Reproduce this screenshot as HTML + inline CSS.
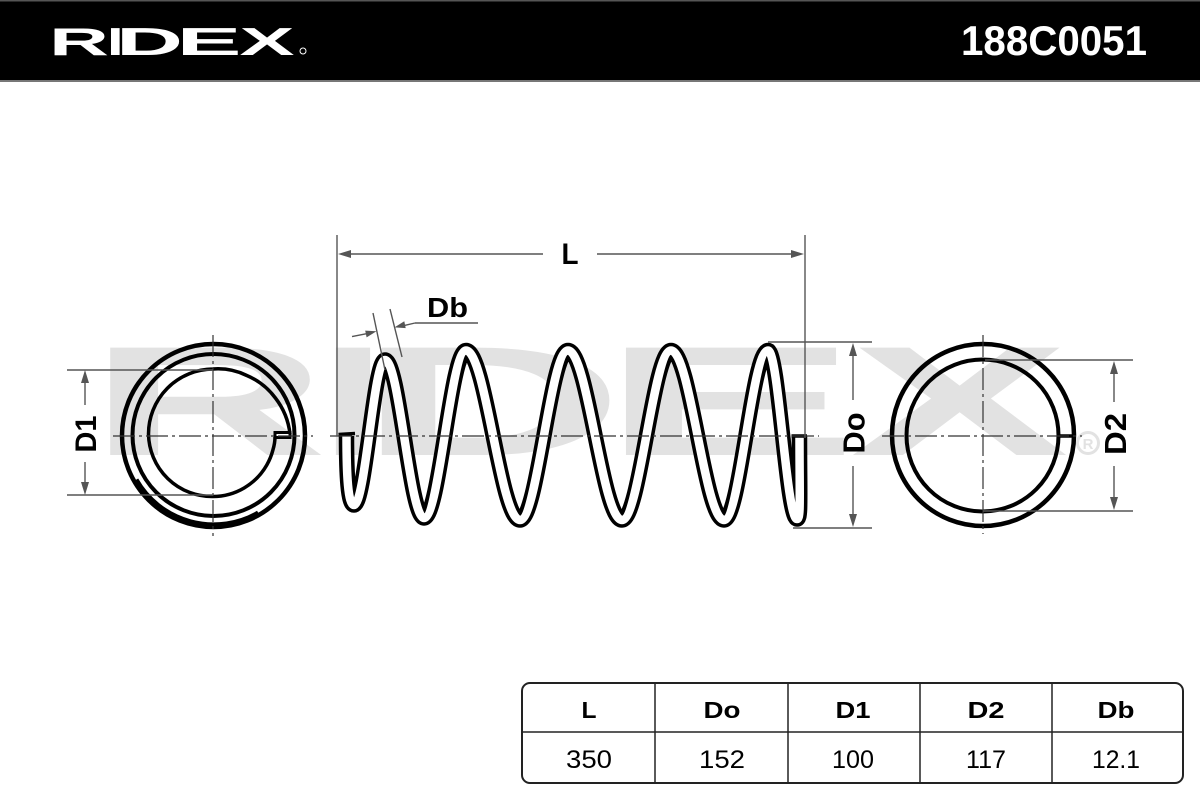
<!DOCTYPE html>
<html>
<head>
<meta charset="utf-8">
<style>
html,body{margin:0;padding:0;background:#fff;}
body{width:1200px;height:800px;overflow:hidden;}
svg{display:block;}
text{font-family:"Liberation Sans",Arial,sans-serif;}
</style>
</head>
<body>
<svg width="1200" height="800" viewBox="0 0 1200 800" xmlns="http://www.w3.org/2000/svg">
  <rect x="0" y="0" width="1200" height="800" fill="#fff"/>

  <!-- Header bar -->
  <rect x="0" y="0" width="1200" height="80" fill="#000"/>
  <rect x="0" y="0" width="1200" height="1.5" fill="#555"/>
  <rect x="0" y="80" width="1200" height="2" fill="#777"/>
  <g fill="#fff" font-weight="bold" font-size="39">
    <text x="49" y="55" textLength="60" lengthAdjust="spacingAndGlyphs">R</text>
    <text x="107" y="55" textLength="16.6" lengthAdjust="spacingAndGlyphs">I</text>
    <text x="116" y="55" textLength="67" lengthAdjust="spacingAndGlyphs">D</text>
    <text x="176.5" y="55" textLength="65" lengthAdjust="spacingAndGlyphs">E</text>
    <text x="239.5" y="55" textLength="55" lengthAdjust="spacingAndGlyphs">X</text>
  </g>
  <circle cx="303" cy="51" r="3" fill="none" stroke="#fff" stroke-width="1"/>
  <text x="961" y="55" fill="#fff" font-weight="bold" font-size="42" textLength="186" lengthAdjust="spacingAndGlyphs">188C0051</text>

  <!-- Watermark -->
  <g fill="#e2e2e2" font-weight="bold" font-size="156">
    <text x="88" y="455" textLength="240" lengthAdjust="spacingAndGlyphs">R</text>
    <text x="320" y="455" textLength="66" lengthAdjust="spacingAndGlyphs">I</text>
    <text x="357" y="455" textLength="268" lengthAdjust="spacingAndGlyphs">D</text>
    <text x="600" y="455" textLength="259" lengthAdjust="spacingAndGlyphs">E</text>
    <text x="850" y="455" textLength="219" lengthAdjust="spacingAndGlyphs">X</text>
  </g>
  <circle cx="1088" cy="443" r="10.5" fill="none" stroke="#e2e2e2" stroke-width="3"/>
  <text x="1088" y="449" fill="#e2e2e2" font-weight="bold" font-size="15" text-anchor="middle">R</text>

  <!-- Left end view -->
  <g fill="none" stroke="#000">
    <circle cx="213.5" cy="435.5" r="91.5" stroke-width="4.5"/>
    <path d="M 136.9 479.3 A 88.5 88.5 0 0 0 257.8 512.1" stroke-width="3"/>
    <circle cx="213.5" cy="435" r="81" stroke-width="4"/>
    <path d="M 290 434 A 72 72 0 0 0 275.4 398 A 69 69 0 0 0 246.8 375.5 A 66 66 0 0 0 213 369 A 65 65 0 0 0 148.5 434 A 63.5 63.5 0 0 0 213 496.5 A 62.3 62.3 0 0 0 266.8 465 A 62 62 0 0 0 272.9 450 Q 275 443 275 437" stroke-width="3.5"/>
    <rect x="275" y="432.5" width="15" height="5" fill="#fff" stroke-width="3"/>
  </g>

  <!-- Right end view -->
  <g fill="none" stroke="#000">
    <circle cx="983" cy="435" r="91" stroke-width="4.5"/>
    <circle cx="982.5" cy="435.5" r="76" stroke-width="4"/>
    <line x1="1058" y1="436" x2="1075" y2="436" stroke-width="3.5"/>
  </g>

  <!-- Spring -->
  <g fill="none" stroke-linecap="butt" stroke-linejoin="round">
    <path id="sp" d="M 346.5 436 C 346.5 475 348 505 354 505 C 365.3 505 373.7 360 385 360 C 399.2 360 409.8 518 424 518 C 439.3 518 450.7 350.5 466 350.5 C 485.7 350.5 500.3 520 520 520 C 537.5 520 550.5 350.5 568 350.5 C 587.7 350.5 602.3 520 622 520 C 639.8 520 653.2 350.5 671 350.5 C 690.3 350.5 704.7 520 724 520 C 740 520 752 350.5 768 350.5 C 778.6 350.5 786.4 519 797 519 C 801 519 799.5 500 799.5 436" stroke="#000" stroke-width="15.5"/>
    <path d="M 346.5 436 C 346.5 475 348 505 354 505 C 365.3 505 373.7 360 385 360 C 399.2 360 409.8 518 424 518 C 439.3 518 450.7 350.5 466 350.5 C 485.7 350.5 500.3 520 520 520 C 537.5 520 550.5 350.5 568 350.5 C 587.7 350.5 602.3 520 622 520 C 639.8 520 653.2 350.5 671 350.5 C 690.3 350.5 704.7 520 724 520 C 740 520 752 350.5 768 350.5 C 778.6 350.5 786.4 519 797 519 C 801 519 799.5 500 799.5 436" stroke="#fff" stroke-width="8.5"/>
    <line x1="338.5" y1="434.5" x2="355" y2="433.5" stroke="#000" stroke-width="3.5"/>
    <line x1="791.5" y1="436" x2="807" y2="436" stroke="#000" stroke-width="3.5"/>
  </g>

  <!-- Centerlines (dash-dot) -->
  <g stroke="#333" stroke-width="1.2" stroke-dasharray="22 4 3 4" fill="none">
    <line x1="113" y1="436" x2="313" y2="436"/>
    <line x1="213" y1="335" x2="213" y2="536"/>
    <line x1="330" y1="436" x2="819" y2="436"/>
    <line x1="882" y1="436" x2="1082" y2="436"/>
    <line x1="983" y1="335" x2="983" y2="534"/>
  </g>

  <!-- Dimension lines -->
  <g stroke="#555" stroke-width="1.4" fill="none">
    <!-- D1 -->
    <line x1="67" y1="370" x2="213" y2="370"/>
    <line x1="67" y1="495" x2="213" y2="495"/>
    <line x1="85" y1="380" x2="85" y2="405"/>
    <line x1="85" y1="462" x2="85" y2="485"/>
    <!-- L -->
    <line x1="337" y1="235" x2="337" y2="436"/>
    <line x1="805" y1="235" x2="805" y2="438"/>
    <line x1="347" y1="254" x2="543" y2="254"/>
    <line x1="597" y1="254" x2="795" y2="254"/>
    <!-- Db -->
    <line x1="373" y1="313" x2="385" y2="370"/>
    <line x1="390" y1="309" x2="402" y2="357"/>
    <line x1="352" y1="336.6" x2="366" y2="333.8"/>
    <line x1="404" y1="325.6" x2="415" y2="323"/>
    <line x1="415" y1="323" x2="478" y2="323"/>
    <!-- Do -->
    <line x1="768" y1="342" x2="872" y2="342"/>
    <line x1="793" y1="528" x2="872" y2="528"/>
    <line x1="853" y1="352" x2="853" y2="400"/>
    <line x1="853" y1="466" x2="853" y2="518"/>
    <!-- D2 -->
    <line x1="985" y1="360" x2="1133" y2="360"/>
    <line x1="983" y1="511" x2="1133" y2="511"/>
    <line x1="1114" y1="370" x2="1114" y2="402"/>
    <line x1="1114" y1="466" x2="1114" y2="501"/>
  </g>
  <g fill="#555">
    <polygon points="85,370 81,383 89,383"/>
    <polygon points="85,495 81,482 89,482"/>
    <polygon points="338,254 351,250 351,258"/>
    <polygon points="804,254 791,250 791,258"/>
    <polygon points="376.5,331.3 366.6,337.4 365.2,330.6"/>
    <polygon points="394.5,327.4 404.3,321.3 405.7,328.1"/>
    <polygon points="853,343 849,356 857,356"/>
    <polygon points="853,527 849,514 857,514"/>
    <polygon points="1114,361 1110,374 1118,374"/>
    <polygon points="1114,510 1110,497 1118,497"/>
  </g>

  <!-- Labels -->
  <g fill="#000" font-weight="bold">
    <text x="570" y="264" font-size="30" text-anchor="middle" textLength="17" lengthAdjust="spacingAndGlyphs">L</text>
    <text x="427" y="317" font-size="28" textLength="41" lengthAdjust="spacingAndGlyphs">Db</text>
    <text transform="translate(85,434) rotate(-90)" x="0" y="11" font-size="30" text-anchor="middle" textLength="37" lengthAdjust="spacingAndGlyphs">D1</text>
    <text transform="translate(853,433) rotate(-90)" x="0" y="11.5" font-size="31" text-anchor="middle" textLength="41" lengthAdjust="spacingAndGlyphs">Do</text>
    <text transform="translate(1114.5,434) rotate(-90)" x="0" y="11.5" font-size="31" text-anchor="middle" textLength="42" lengthAdjust="spacingAndGlyphs">D2</text>
  </g>

  <!-- Table -->
  <g fill="none" stroke="#222">
    <rect x="522" y="683" width="661" height="100" rx="8" ry="8" stroke-width="2"/>
    <line x1="522" y1="732" x2="1183" y2="732" stroke-width="1.5"/>
    <line x1="655" y1="683" x2="655" y2="783" stroke-width="1.5"/>
    <line x1="788" y1="683" x2="788" y2="783" stroke-width="1.5"/>
    <line x1="920" y1="683" x2="920" y2="783" stroke-width="1.5"/>
    <line x1="1052" y1="683" x2="1052" y2="783" stroke-width="1.5"/>
  </g>
  <g fill="#000" font-weight="bold" font-size="23" text-anchor="middle">
    <text x="589" y="718" textLength="15" lengthAdjust="spacingAndGlyphs">L</text>
    <text x="722" y="718" textLength="37" lengthAdjust="spacingAndGlyphs">Do</text>
    <text x="853" y="718" textLength="35" lengthAdjust="spacingAndGlyphs">D1</text>
    <text x="986" y="718" textLength="37" lengthAdjust="spacingAndGlyphs">D2</text>
    <text x="1116" y="718" textLength="37" lengthAdjust="spacingAndGlyphs">Db</text>
  </g>
  <g fill="#000" font-size="25" text-anchor="middle">
    <text x="589" y="768" textLength="46" lengthAdjust="spacingAndGlyphs">350</text>
    <text x="722" y="768" textLength="46" lengthAdjust="spacingAndGlyphs">152</text>
    <text x="853" y="768" textLength="42" lengthAdjust="spacingAndGlyphs">100</text>
    <text x="986" y="768" textLength="40" lengthAdjust="spacingAndGlyphs">117</text>
    <text x="1116" y="768" textLength="48" lengthAdjust="spacingAndGlyphs">12.1</text>
  </g>
</svg>
</body>
</html>
